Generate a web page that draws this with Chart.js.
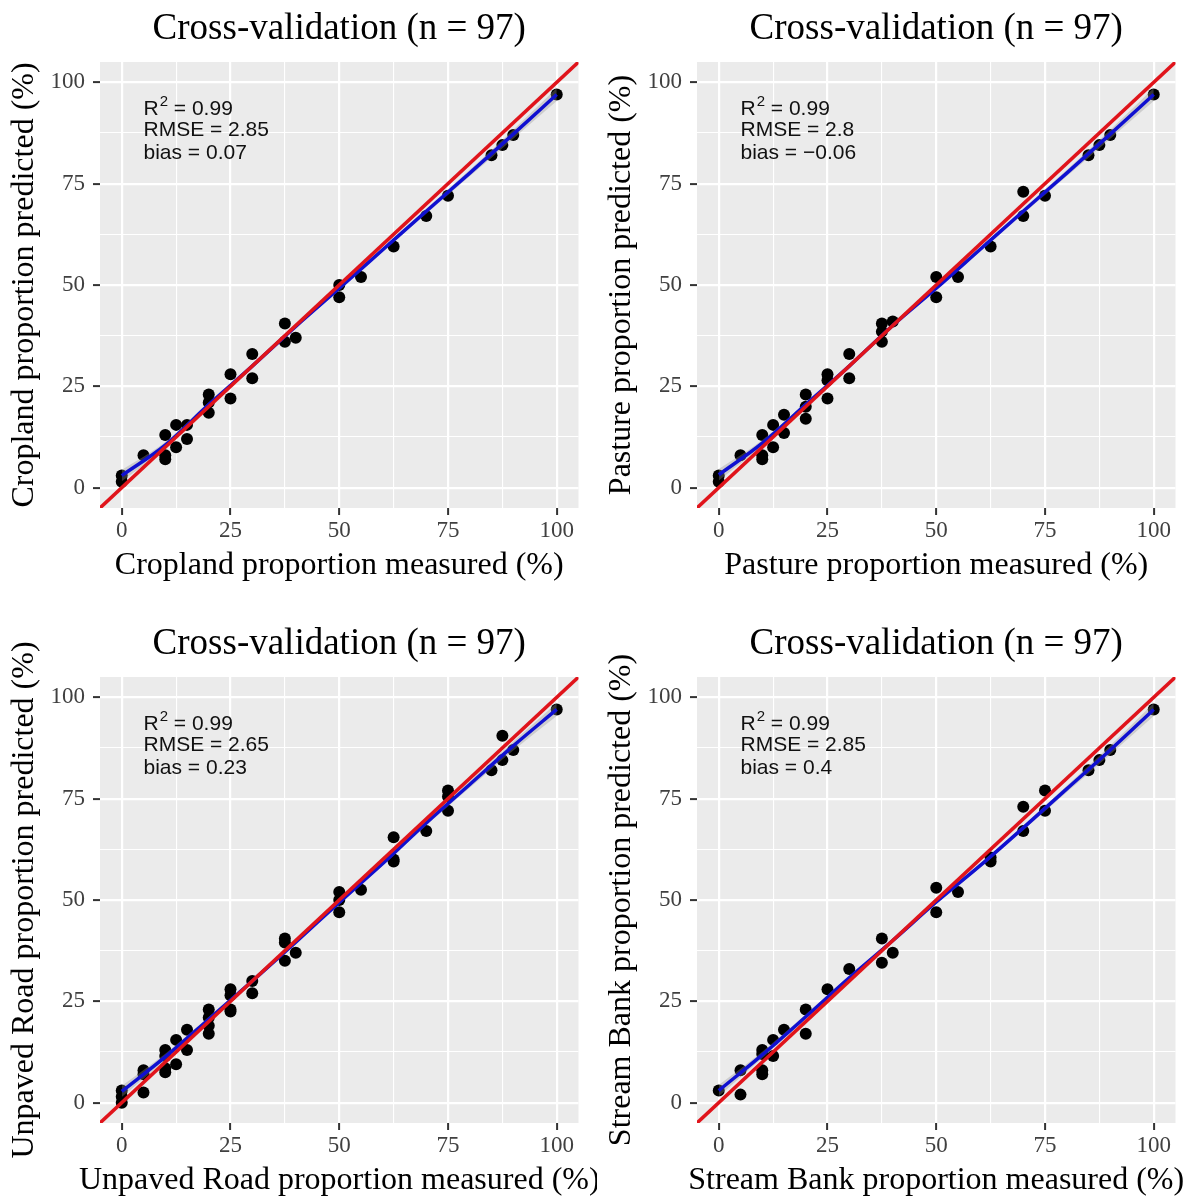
<!DOCTYPE html>
<html><head><meta charset="utf-8">
<script src="https://cdn.jsdelivr.net/npm/chart.js@4.4.1/dist/chart.umd.min.js"></script>
<style>
html,body{margin:0;padding:0;background:#fff;width:1184px;height:1196px;overflow:hidden;}
.panel{position:absolute;width:597px;height:615px;}
canvas{display:block;}
</style></head><body>
<div class="panel" style="left:0;top:0"><canvas id="c0" width="597" height="615"></canvas></div>
<div class="panel" style="left:597px;top:0"><canvas id="c1" width="597" height="615"></canvas></div>
<div class="panel" style="left:0;top:615px"><canvas id="c2" width="597" height="615"></canvas></div>
<div class="panel" style="left:597px;top:615px"><canvas id="c3" width="597" height="615"></canvas></div>
<script>
// ---------- data ----------
const panelTitle = "Cross-validation (n = 97)";
const majorTicks = [0, 25, 50, 75, 100];
const minorTicks = [12.5, 37.5, 62.5, 87.5];
const axisMin = -5, axisMax = 105;

const sources = ["Cropland", "Pasture", "Unpaved Road", "Stream Bank"];
const statsR2 = ["0.99", "0.99", "0.99", "0.99"];
const statsRMSE = ["2.85", "2.8", "2.65", "2.85"];
const statsBias = ["0.07", "\u22120.06", "0.23", "0.4"];

// Cropland
const croplandMeasured  = [0,0,5,10,10,10,12.5,12.5,15,15,20,20,20,25,25,30,30,37.5,37.5,40,50,50,55,62.5,70,75,85,87.5,90,100];
const croplandPredicted = [3,1.5,8,13,8,7,15.5,10,15.5,12,23,21,18.5,28,22,33,27,40.5,36,37,50,47,52,59.5,67,72,82,84.5,87,97];
// Pasture
const pastureMeasured  = [0,0,5,10,10,10,12.5,12.5,15,15,20,20,20,25,25,25,30,30,37.5,37.5,37.5,40,50,50,55,62.5,70,70,75,85,87.5,90,100];
const pasturePredicted = [3,1.5,8,13,8,7,15.5,10,18,13.5,23,20,17,28,26.5,22,33,27,40.5,38.5,36,41,52,47,52,59.5,73,67,72,82,84.5,87,97];
// Unpaved Road
const roadMeasured  = [0,0,0,5,5,5,10,10,10,10,12.5,12.5,15,15,20,20,20,20,25,25,25,25,30,30,37.5,37.5,37.5,40,50,50,50,55,62.5,62.5,62.5,70,75,75,75,85,87.5,87.5,90,100];
const roadPredicted = [3,1.5,0,8,7,2.5,13,11.5,8.5,7.5,15.5,9.5,18,13,23,21,19,17,28,26.5,23,22.5,30,27,40.5,39.5,35,37,52,50,47,52.5,65.5,60,59.5,67,77,75.5,72,82,90.5,84.5,87,97];
// Stream Bank
const bankMeasured  = [0,5,5,10,10,10,10,12.5,12.5,15,20,20,25,30,37.5,37.5,40,50,50,55,62.5,62.5,70,70,75,75,85,87.5,90,100];
const bankPredicted = [3,8,2,13,12,8,7,15.5,11.5,18,23,17,28,33,40.5,34.5,37,53,47,52,60.5,59.5,73,67,77,72,82,84.5,87,97];

// smoothed fit (blue)
const smoothX = [0,10,20,30,40,50,60,70,80,90,100];
const croplandSmooth = [3,10.5,20.5,30,39.8,49.2,58.7,68.2,77.6,87.2,97];
const pastureSmooth  = [3.2,11,20.5,30,40,49.2,58.7,68.2,77.6,87.2,97];
const roadSmooth     = [2.8,11.3,20.6,30,39.6,49.4,59,69,78.5,88,97];
const bankSmooth     = [3,11.8,21.2,30.8,40,49.5,58.4,67.8,77.4,87,97];
const ribbonHalf     = [1.4,0.8,0.6,0.5,0.5,0.5,0.5,0.6,0.8,1.1,1.6];

const panels = [
  {measured: croplandMeasured, predicted: croplandPredicted, smooth: croplandSmooth},
  {measured: pastureMeasured,  predicted: pasturePredicted,  smooth: pastureSmooth},
  {measured: roadMeasured,     predicted: roadPredicted,     smooth: roadSmooth},
  {measured: bankMeasured,     predicted: bankPredicted,     smooth: bankSmooth}
];

// ---------- styling ----------
const W = 597, H = 615;
const PLOT = {left: 100, top: 62, right: 578.5, bottom: 508};
const SERIF = "'Liberation Serif', 'Times New Roman', serif";
const SANS = "'Liberation Sans', Arial, sans-serif";
const gridTicks = majorTicks.concat(minorTicks).sort((a,b)=>a-b);
const isMajor = v => majorTicks.includes(v);

function axisOpts(isX) {
  return {
    type: 'linear', min: axisMin, max: axisMax,
    afterFit(s) { if (isX) s.height = H - PLOT.bottom; else s.width = PLOT.left; },
    afterBuildTicks(s) { s.ticks = gridTicks.map(v => ({value: v})); },
    ticks: {
      autoSkip: false, maxRotation: 0, minRotation: 0,
      padding: isX ? 2 : 8,
      color: '#404040',
      font: {family: SERIF, size: 23},
      callback: v => isMajor(v) ? String(v) : ''
    },
    grid: {
      color: '#ffffff',
      lineWidth: c => (c.tick && isMajor(c.tick.value)) ? 2.2 : 1.1,
      tickColor: c => (c.tick && isMajor(c.tick.value)) ? '#333333' : 'rgba(0,0,0,0)',
      tickLength: 7, tickWidth: 2
    },
    border: {display: false}
  };
}

const decor = {
  id: 'decor',
  beforeDraw(chart) {
    const {ctx, chartArea: a} = chart;
    ctx.save();
    ctx.fillStyle = '#ebebeb';
    ctx.fillRect(a.left, a.top, a.right - a.left, a.bottom - a.top);
    ctx.restore();
  },
  afterDraw(chart, args, o) {
    const {ctx, chartArea: a, scales} = chart;
    const cx = (a.left + a.right) / 2, cy = (a.top + a.bottom) / 2;
    ctx.save();
    ctx.fillStyle = '#000';
    // panel title
    ctx.font = `37px ${SERIF}`;
    ctx.textAlign = 'center'; ctx.textBaseline = 'alphabetic';
    ctx.fillText(panelTitle, cx, 39);
    // x title
    ctx.font = `32px ${SERIF}`;
    ctx.fillText(`${o.source} proportion measured (%)`, cx, 574);
    // y title
    ctx.save();
    ctx.translate(33, cy);
    ctx.rotate(-Math.PI / 2);
    ctx.fillText(`${o.source} proportion predicted (%)`, 0, 0);
    ctx.restore();
    // stats annotation
    const x0 = scales.x.getPixelForValue(5);
    const y0 = scales.y.getPixelForValue(92);
    ctx.textAlign = 'left';
    ctx.fillStyle = '#111';
    ctx.font = `21px ${SANS}`;
    ctx.fillText('R', x0, y0);
    let w = ctx.measureText('R').width;
    ctx.font = `15px ${SANS}`;
    ctx.fillText('2', x0 + w + 1, y0 - 9);
    w += ctx.measureText('2').width + 1;
    ctx.font = `21px ${SANS}`;
    ctx.fillText(` = ${o.r2}`, x0 + w, y0);
    ctx.fillText(`RMSE = ${o.rmse}`, x0, y0 + 21);
    ctx.fillText(`bias = ${o.bias}`, x0, y0 + 44);
    ctx.restore();
  }
};

panels.forEach((p, i) => {
  const pts = p.measured.map((x, k) => ({x, y: p.predicted[k]}));
  const fit = smoothX.map((x, k) => ({x, y: p.smooth[k]}));
  const up = smoothX.map((x, k) => ({x, y: p.smooth[k] + ribbonHalf[k]}));
  const lo = smoothX.map((x, k) => ({x, y: p.smooth[k] - ribbonHalf[k]}));
  new Chart(document.getElementById('c' + i), {
    type: 'scatter',
    data: {
      datasets: [
        {type: 'line', data: [{x: axisMin, y: axisMin}, {x: axisMax, y: axisMax}], borderColor: '#e0141b', borderWidth: 3.5, pointRadius: 0, fill: false, order: 0},
        {type: 'line', data: fit, borderColor: '#1010d0', borderWidth: 3.5, pointRadius: 0, fill: false, cubicInterpolationMode: 'monotone', order: 1},
        {type: 'line', data: up, borderWidth: 0, borderColor: 'rgba(0,0,0,0)', pointRadius: 0, fill: '+1', backgroundColor: 'rgba(150,150,150,0.35)', cubicInterpolationMode: 'monotone', order: 2},
        {type: 'line', data: lo, borderWidth: 0, borderColor: 'rgba(0,0,0,0)', pointRadius: 0, fill: false, cubicInterpolationMode: 'monotone', order: 3},
        {type: 'scatter', data: pts, pointRadius: 6, pointBackgroundColor: '#000', backgroundColor: '#000', borderWidth: 0, pointBorderWidth: 0, order: 4}
      ]
    },
    options: {
      responsive: false, animation: false, events: [],
      layout: {padding: {left: 0, top: PLOT.top, right: W - PLOT.right, bottom: 0}},
      plugins: {
        legend: {display: false}, tooltip: {enabled: false},
        decor: {source: sources[i], r2: statsR2[i], rmse: statsRMSE[i], bias: statsBias[i]}
      },
      scales: {x: axisOpts(true), y: axisOpts(false)}
    },
    plugins: [decor]
  });
});
</script>
</body></html>
